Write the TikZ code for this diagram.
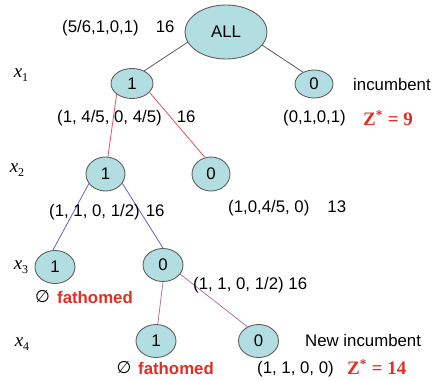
\documentclass[tikz,border=0pt]{standalone}
\usepackage{fontspec}
\setmainfont{Liberation Sans}
\newfontfamily\zfont{Liberation Serif}
\newfontfamily\symfont{DejaVu Sans}
\usetikzlibrary{shapes.geometric}

\definecolor{nodefill}{RGB}{178,222,226}
\definecolor{nodeline}{RGB}{95,95,95}
\definecolor{edgegray}{RGB}{90,90,90}
\definecolor{edgered}{RGB}{226,82,96}
\definecolor{edgeblue}{RGB}{96,96,222}
\definecolor{edgemauve}{RGB}{178,118,158}
\definecolor{markred}{RGB}{226,46,36}

% italic variable name with a subscript index
\newcommand{\varname}[1]{{\itshape x}\raisebox{-4pt}{\fontsize{12}{14}\selectfont #1}}

\tikzset{
  bbnode/.style={ellipse, draw=nodeline, fill=nodefill, line width=0.9pt,
    minimum width=40pt, minimum height=33pt, inner sep=0pt,
    font=\fontsize{16.8}{20}\selectfont},
  txt/.style={anchor=west, inner sep=0pt, font=\fontsize{16.8}{20}\selectfont},
  varlbl/.style={inner sep=0pt, font=\zfont\fontsize{19}{22}\selectfont},
  zstar/.style={anchor=west, inner sep=0pt, text=markred,
    font=\zfont\bfseries\fontsize{19}{22}\selectfont},
  fath/.style={anchor=west, inner sep=0pt, text=markred,
    font=\bfseries\fontsize{16.8}{20}\selectfont},
  emptymark/.style={inner sep=0pt, font=\symfont\fontsize{17}{19}\selectfont},
  link/.style={line width=0.8pt}
}

\begin{document}
\begin{tikzpicture}[x=1pt, y=-1pt]
\useasboundingbox (0,0) rectangle (433,380);

% branch-and-bound tree nodes
\node[bbnode, minimum width=82pt, minimum height=54pt] (all) at (226,32) {ALL};
\node[bbnode, minimum width=42pt, minimum height=30pt] (a1) at (132,83.5) {1};
\node[bbnode, minimum width=38pt, minimum height=28pt] (a0) at (314,84) {0};
\node[bbnode, minimum width=39pt, minimum height=34pt] (b1) at (105.5,174) {1};
\node[bbnode, minimum width=38pt, minimum height=34pt] (b0) at (211,174) {0};
\node[bbnode] (c1) at (55,267) {1};
\node[bbnode] (c0) at (163,265) {0};
\node[bbnode] (d1) at (156,341) {1};
\node[bbnode] (d0) at (258.5,341) {0};

% branches
\draw[link, edgegray] (all.195) -- (a1.46);
\draw[link, edgegray] (all.340) -- (a0.133);
\draw[link, edgered] (a1.215) -- (b1.82);
\draw[link, edgered] (a1.333) -- (b0.110);
\draw[link, edgeblue] (b1.210) -- (c1.97);
\draw[link, edgeblue] (b1.331) -- (c0.90);
\draw[link, edgemauve] (c0.270) -- (d1.84);
\draw[link, edgemauve] (c0.332) -- (d0.128);

% variable labels
\node[varlbl] (v1) at (21,75) {\varname{1}};
\node[varlbl] (v2) at (17,170) {\varname{2}};
\node[varlbl] (v3) at (21,267) {\varname{3}};
\node[varlbl] (v4) at (22,344) {\varname{4}};

% LP solutions and bounds
\node[txt] (s0) at (62,28) {(5/6,1,0,1)\hspace{17pt}16};
\node[txt] (s1) at (57,118) {(1, 4/5, 0, 4/5)\hspace{15pt}16};
\node[txt] (s2) at (283,118) {(0,1,0,1)};
\node[txt] (s3) at (49,212) {(1, 1, 0, 1/2)\hspace{6pt}16};
\node[txt] (s4) at (228,208) {(1,0,4/5, 0)\hspace{18pt}13};
\node[txt] (s5) at (193,285) {(1, 1, 0, 1/2) 16};
\node[txt] (s6) at (257,369) {(1, 1, 0, 0)};

% incumbents
\node[txt] (i1) at (353,84) {incumbent};
\node[zstar] (z1) at (363,118) {Z\textsuperscript{*} = 9};
\node[zstar] (z2) at (347,367) {Z\textsuperscript{*} = 14};
\node[txt] (i2) at (305,340) {New incumbent};

% fathomed nodes
\node[emptymark] (e1) at (42.5,297) {∅};
\node[fath] (f1) at (57,297) {fathomed};
\node[emptymark] (e2) at (124,368) {∅};
\node[fath] (f2) at (138,368) {fathomed};
\end{tikzpicture}
\end{document}
